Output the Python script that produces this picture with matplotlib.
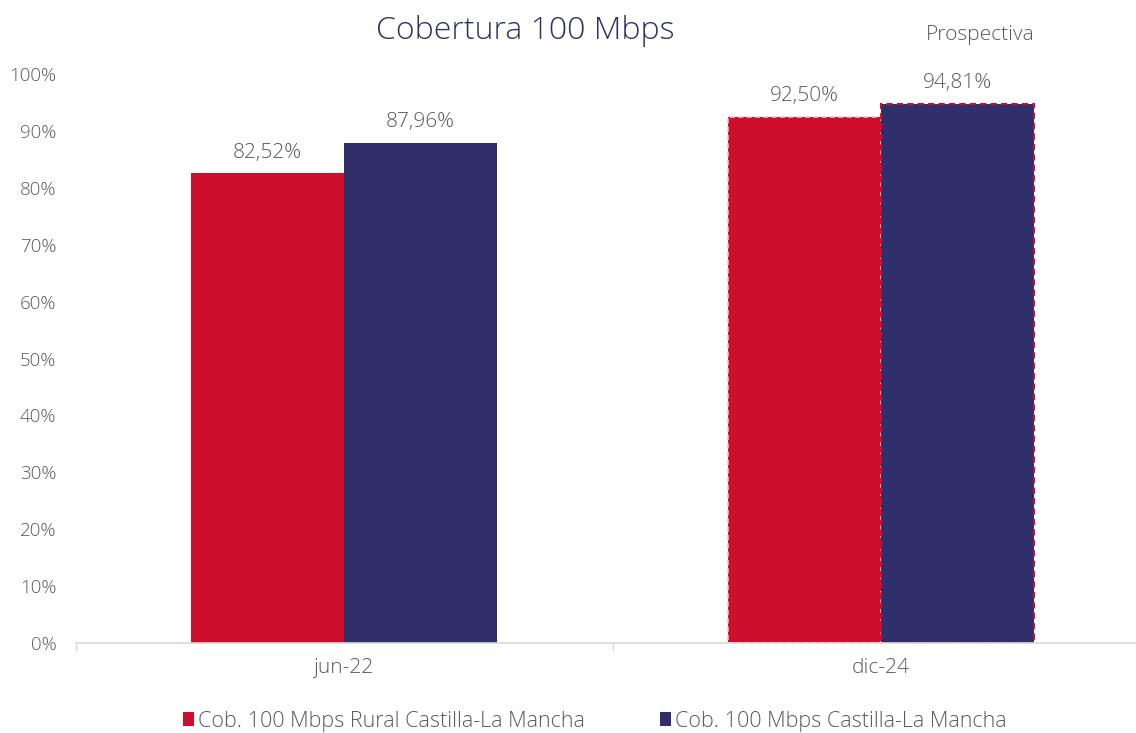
import matplotlib.pyplot as plt
from matplotlib.ticker import FuncFormatter

plt.rcParams['font.family'] = ['Open Sans', 'DejaVu Sans']

categories = ['jun-22', 'dic-24']
rural = [82.52, 92.50]
total = [87.96, 94.81]
labels_rural = ['82,52%', '92,50%']
labels_total = ['87,96%', '94,81%']

red = '#CE0E2D'
navy = '#2F2F6B'
grey = '#595959'

fig = plt.figure(figsize=(11.36, 7.33), dpi=100)
ax = fig.add_axes([76 / 1136, 1 - 643 / 733, 1073 / 1136, (643 - 74) / 733])

w = 0.285
x = range(len(categories))
b1 = ax.bar([i - w / 2 for i in x], rural, w, color=red, label='Cob. 100 Mbps Rural Castilla-La Mancha')
b2 = ax.bar([i + w / 2 for i in x], total, w, color=navy, label='Cob. 100 Mbps Castilla-La Mancha')

# forecast bars get dashed borders
b1[1].set_edgecolor('#f2c4cc')
b1[1].set_linestyle((0, (3, 2)))
b1[1].set_linewidth(1.2)
b2[1].set_edgecolor(red)
b2[1].set_linestyle((0, (3, 2)))
b2[1].set_linewidth(1.5)

for i in x:
    ax.text(i - w / 2, rural[i] + 1.9, labels_rural[i], ha='center', va='bottom', fontsize=15,
            color=grey, fontweight='light')
    ax.text(i + w / 2, total[i] + 1.9, labels_total[i], ha='center', va='bottom', fontsize=15,
            color=grey, fontweight='light')

ax.set_xlim(-0.5, 1.5)
ax.set_ylim(0, 100)
ax.set_yticks(range(0, 101, 10))
ax.yaxis.set_major_formatter(FuncFormatter(lambda v, p: f'{int(v)}%'))
ax.set_xticks(list(x))
ax.set_xticklabels(categories)
ax.set_xticks([-0.5, 0.5, 1.5], minor=True)
ax.tick_params(axis='x', which='major', length=0, pad=11, labelsize=15, labelcolor=grey)
ax.tick_params(axis='x', which='minor', length=6, color='#d9d9d9', width=1)
ax.tick_params(axis='y', length=0, pad=14, labelsize=13.5, labelcolor=grey)
for lab in ax.get_xticklabels() + ax.get_yticklabels():
    lab.set_fontweight('light')
for s in ['top', 'right', 'left']:
    ax.spines[s].set_visible(False)
ax.spines['bottom'].set_color('#d9d9d9')
ax.spines['bottom'].set_linewidth(1.2)

fig.text(525 / 1136, 1 - 31 / 733, 'Cobertura 100 Mbps', ha='center', va='center', fontsize=23,
         color=navy, fontweight='light')
fig.text(980 / 1136, 1 - 35 / 733, 'Prospectiva', ha='center', va='center', fontsize=15,
         color=grey, fontweight='light')

fig.legend(loc='center', bbox_to_anchor=(595 / 1136, 1 - 721 / 733), ncol=2, frameon=False,
           labelcolor=grey, handlelength=0.5, handleheight=0.6, handletextpad=0.2,
           columnspacing=3.5, prop={'weight': 'light', 'size': 15.5})

fig.savefig('out.png', dpi=100)
